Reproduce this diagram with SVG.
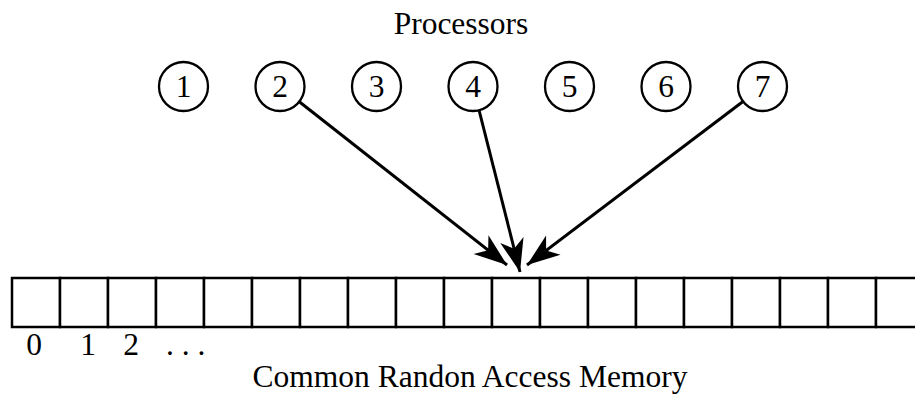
<svg xmlns="http://www.w3.org/2000/svg" width="915" height="397" viewBox="0 0 915 397">
<style>
text{font-family:"Liberation Serif","Times New Roman",serif;font-size:31.5px;fill:#000}
.c{fill:#fff;stroke:#000;stroke-width:2.3}
.cell{fill:#fff;stroke:#000;stroke-width:2.5}
.e{stroke:#000;stroke-width:3;fill:none}
</style>
<defs>
<marker id="ah" markerUnits="userSpaceOnUse" markerWidth="36" markerHeight="28" viewBox="-34 -14 36 28" refX="0" refY="0" orient="auto">
<path d="M0,0 L-33,-12 L-24,0 L-33,12 Z" fill="#000"/>
</marker>
</defs>
<rect width="915" height="397" fill="#fff"/>
<text x="461" y="34" text-anchor="middle">Processors</text>
<g id="p1"><circle class="c" cx="183.5" cy="86.5" r="24.5"/><text x="183.5" y="97" text-anchor="middle">1</text></g>
<g id="p2"><circle class="c" cx="280" cy="86.5" r="24.5"/><text x="280" y="97" text-anchor="middle">2</text></g>
<g id="p3"><circle class="c" cx="376.5" cy="86.5" r="24.5"/><text x="376.5" y="97" text-anchor="middle">3</text></g>
<g id="p4"><circle class="c" cx="473" cy="86.5" r="24.5"/><text x="473" y="97" text-anchor="middle">4</text></g>
<g id="p5"><circle class="c" cx="569.5" cy="86.5" r="24.5"/><text x="569.5" y="97" text-anchor="middle">5</text></g>
<g id="p6"><circle class="c" cx="666" cy="86.5" r="24.5"/><text x="666" y="97" text-anchor="middle">6</text></g>
<g id="p7"><circle class="c" cx="762.5" cy="86.5" r="24.5"/><text x="762.5" y="97" text-anchor="middle">7</text></g>
<g id="memory">
<rect class="cell" x="12" y="278" width="48" height="49"/>
<rect class="cell" x="60" y="278" width="48" height="49"/>
<rect class="cell" x="108" y="278" width="48" height="49"/>
<rect class="cell" x="156" y="278" width="48" height="49"/>
<rect class="cell" x="204" y="278" width="48" height="49"/>
<rect class="cell" x="252" y="278" width="48" height="49"/>
<rect class="cell" x="300" y="278" width="48" height="49"/>
<rect class="cell" x="348" y="278" width="48" height="49"/>
<rect class="cell" x="396" y="278" width="48" height="49"/>
<rect class="cell" x="444" y="278" width="48" height="49"/>
<rect class="cell" x="492" y="278" width="48" height="49"/>
<rect class="cell" x="540" y="278" width="48" height="49"/>
<rect class="cell" x="588" y="278" width="48" height="49"/>
<rect class="cell" x="636" y="278" width="48" height="49"/>
<rect class="cell" x="684" y="278" width="48" height="49"/>
<rect class="cell" x="732" y="278" width="48" height="49"/>
<rect class="cell" x="780" y="278" width="48" height="49"/>
<rect class="cell" x="828" y="278" width="48" height="49"/>
<rect class="cell" x="876" y="278" width="48" height="49"/>
</g>
<g id="labels">
<text x="34" y="355" text-anchor="middle">0</text>
<text x="88" y="355" text-anchor="middle">1</text>
<text x="131" y="355" text-anchor="middle">2</text>
<text x="166" y="355">. . .</text>
</g>
<text x="470" y="387" text-anchor="middle">Common Randon Access Memory</text>
<g id="connectors">
<line class="e" x1="299" y1="101.5" x2="507" y2="265" marker-end="url(#ah)"/>
<line class="e" x1="479" y1="110" x2="520" y2="272" marker-end="url(#ah)"/>
<line class="e" x1="743" y1="101.5" x2="527" y2="265" marker-end="url(#ah)"/>
</g>
</svg>
